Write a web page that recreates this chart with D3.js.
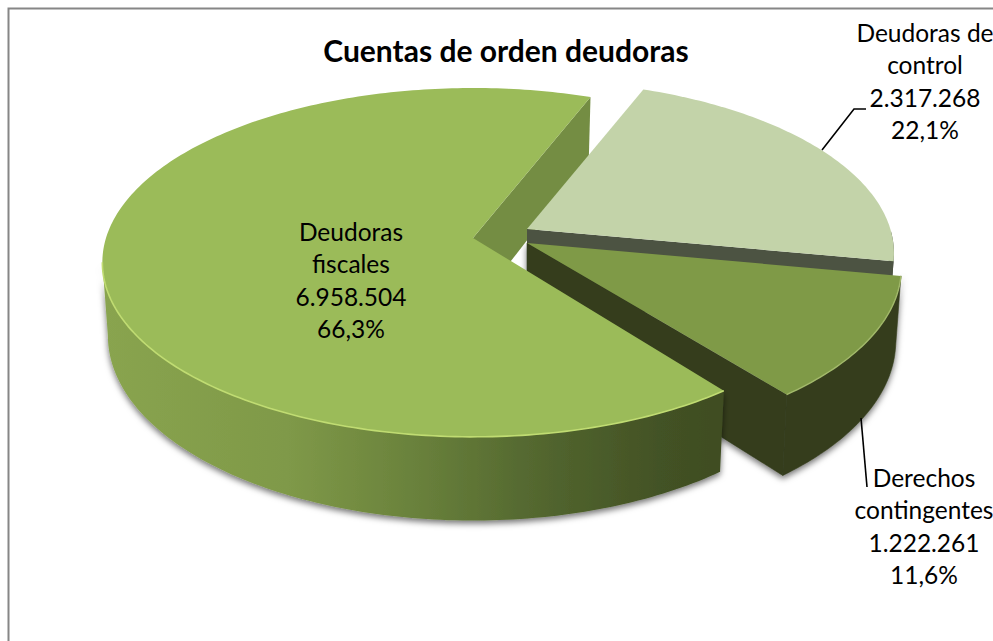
<!DOCTYPE html>
<html><head><meta charset="utf-8">
<script src="https://cdn.jsdelivr.net/npm/d3@7"></script>
<style>html,body{margin:0;padding:0;background:#fff}svg{display:block}text{font-family:Lato,"Open Sans",sans-serif;fill:#000}</style>
</head><body><div id="c"></div>
<script>
const categories = ["Deudoras fiscales", "Deudoras de control", "Derechos contingentes"];
const values = [6958504, 2317268, 1222261];
const labelLines = [
  ["Deudoras", "fiscales", "6.958.504", "66,3%"],
  ["Deudoras de", "control", "2.317.268", "22,1%"],
  ["Derechos", "contingentes", "1.222.261", "11,6%"]
];
const topColors = ["#9bbb59", "#c3d3a9", "#7f9a47"];
const title = "Cuentas de orden deudoras";

const W = 993, H = 641;
const svg = d3.select("#c").append("svg").attr("width", W).attr("height", H);
const defs = svg.append("defs");

const cx = 473, cy = 238, R = 367, S = 171, a = -0.14, D = 72, bottomShrink = 0.985;
const offsets = [[0, 0], [54, -9], [54, 5]];
const sliceScale = [1, 0.99, 1.01];
const rad = d => d * Math.PI / 180;
const start = rad(142.6);
const arcs = d3.pie().sort(null).value(d => d).startAngle(start).endAngle(start + 2 * Math.PI)(values);

function P(angle, i, bottom) {
  const u = Math.sin(angle), v = -Math.cos(angle), w = 1 + a * v;
  let x = sliceScale[i] * R * u / w, y = sliceScale[i] * S * v / w;
  if (bottom) { x *= bottomShrink; y += D / w; }
  return [cx + offsets[i][0] + x, cy + offsets[i][1] + y];
}
function apex(i, bottom) {
  const A = [cx + offsets[i][0], cy + offsets[i][1]];
  if (bottom) A[1] += D;
  return A;
}
function samples(a0, a1, i, bottom) {
  const n = Math.max(2, Math.ceil(Math.abs(a1 - a0) / rad(1)));
  return d3.range(n + 1).map(k => P(a0 + (a1 - a0) * k / n, i, bottom));
}
const line = d3.line();
const topPath = (a0, a1, i) => line([apex(i), ...samples(a0, a1, i)]) + "Z";
const outerWall = (a0, a1, i) => line([...samples(a0, a1, i), ...samples(a1, a0, i, true)]) + "Z";
const innerWall = (ang, i) => line([apex(i), P(ang, i), P(ang, i, true), apex(i, true)]) + "Z";

const grad = defs.append("linearGradient").attr("id", "wallGrad").attr("gradientUnits", "userSpaceOnUse")
  .attr("x1", 102).attr("y1", 0).attr("x2", 722).attr("y2", 0);
[[0, "#89a44f"], [0.3, "#7f9948"], [0.5, "#6a823c"], [0.7, "#53672f"], [0.9, "#435225"], [1, "#3f4d22"]]
  .forEach(s => grad.append("stop").attr("offset", s[0]).attr("stop-color", s[1]));
const shadow = defs.append("filter").attr("id", "shadow").attr("x", "-5%").attr("y", "-5%").attr("width", "110%").attr("height", "115%");
shadow.append("feDropShadow").attr("dx", 0).attr("dy", 3).attr("stdDeviation", 3).attr("flood-color", "#000").attr("flood-opacity", 0.55);
defs.append("filter").attr("id", "soft").append("feGaussianBlur").attr("stdDeviation", 0.7);

// chart frame
svg.append("path").attr("d", `M${W},8.5H8.5V${H}`).attr("fill", "none").attr("stroke", "#868686").attr("stroke-width", 2);
svg.append("text").attr("x", 506).attr("y", 62).attr("text-anchor", "middle")
  .attr("font-size", 30).attr("font-weight", 700).text(title);

const [fiscal, control, derechos] = arcs;
const visibleEnd = rad(262);
const derechosEnd = derechos.endAngle - rad(1.2);

// inner wall of the large slice
svg.append("path").attr("d", innerWall(fiscal.endAngle, 0)).attr("fill", "#748d43");

// control slice
svg.append("path").attr("d", outerWall(control.endAngle - rad(10), control.endAngle, 1)).attr("fill", "#4c5342");
svg.append("path").attr("d", innerWall(control.endAngle, 1)).attr("fill", "#4c5342");
svg.append("path").attr("d", topPath(control.startAngle, control.endAngle, 1)).attr("fill", topColors[1]);

// derechos slice
const derechosWalls = svg.append("g").attr("filter", "url(#shadow)");
derechosWalls.append("path").attr("d", outerWall(derechos.startAngle, derechosEnd, 2)).attr("fill", "#343c1c").attr("stroke", "#343c1c").attr("stroke-width", 0.6);
derechosWalls.append("path").attr("d", innerWall(derechosEnd, 2)).attr("fill", "#343c1c").attr("stroke", "#343c1c").attr("stroke-width", 0.6);
svg.append("path").attr("d", topPath(derechos.startAngle, derechosEnd, 2)).attr("fill", topColors[2]);
svg.append("path").attr("d", line(samples(derechos.startAngle, derechosEnd, 2))).attr("fill", "none")
  .attr("stroke", "#a2b96a").attr("stroke-width", 1.4).attr("filter", "url(#soft)");

// large slice
svg.append("path").attr("d", outerWall(fiscal.startAngle, visibleEnd, 0)).attr("fill", "url(#wallGrad)").attr("filter", "url(#shadow)");
svg.append("path").attr("d", topPath(fiscal.startAngle, fiscal.endAngle, 0)).attr("fill", topColors[0]);
svg.append("path").attr("d", line(samples(fiscal.startAngle, visibleEnd, 0))).attr("fill", "none")
  .attr("stroke", "#c0dc72").attr("stroke-width", 1.6).attr("filter", "url(#soft)");

// leader lines
const leaderData = [[[822, 150], [854, 109], [866, 109]], [[861, 418], [867, 487]]];
svg.selectAll(".leader").data(leaderData).join("path").attr("class", "leader")
  .attr("d", d => line(d)).attr("fill", "none").attr("stroke", "#000").attr("stroke-width", 1.6);

// data labels
const labelPos = [[351, 241, 32.3], [925, 42, 32.3], [924, 487, 32.3]];
labelLines.forEach((lines, i) => {
  const t = svg.append("text").attr("text-anchor", "middle").attr("font-size", 24.5);
  lines.forEach((s, k) => t.append("tspan").attr("x", labelPos[i][0]).attr("y", labelPos[i][1] + k * labelPos[i][2]).text(s));
});
</script></body></html>
